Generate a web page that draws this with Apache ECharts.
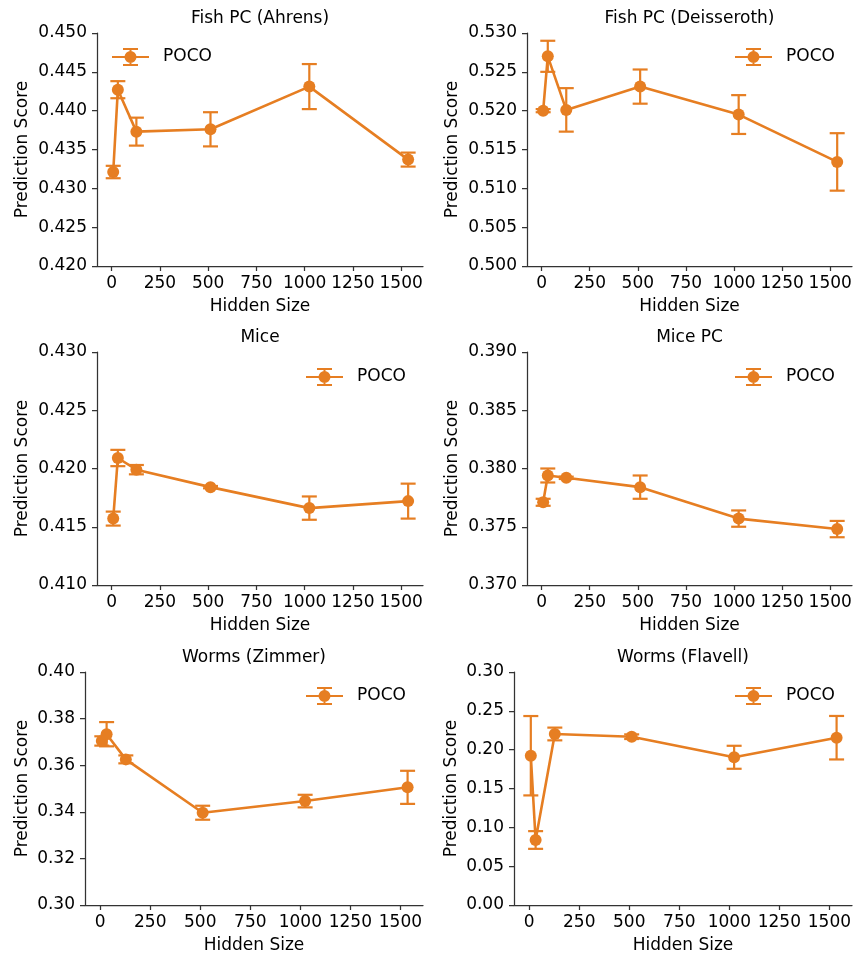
<!DOCTYPE html>
<html><head><meta charset="utf-8">
<script src="https://cdn.jsdelivr.net/npm/echarts@6/dist/echarts.min.js"></script>
<style>html,body{margin:0;padding:0;background:#fff}#c{width:855px;height:958px}</style>
</head><body><div id="c"></div>
<script>
// ---- data ----
const hiddenSizes = [8, 32, 128, 512, 1024, 1536];
const xTicks = [0, 250, 500, 750, 1000, 1250, 1500];
const panelTitles = ['Fish PC (Ahrens)', 'Fish PC (Deisseroth)', 'Mice', 'Mice PC', 'Worms (Zimmer)', 'Worms (Flavell)'];
const seriesName = 'POCO';

const ahrensMean = [0.4321, 0.4427, 0.4373, 0.4376, 0.4431, 0.4337];
const ahrensErr  = [0.0008, 0.0011, 0.0018, 0.0022, 0.0029, 0.0009];
const deisserothMean = [0.5200, 0.5270, 0.5201, 0.5231, 0.5195, 0.5134];
const deisserothErr  = [0.0002, 0.0020, 0.0028, 0.0022, 0.0025, 0.0037];
const miceMean = [0.4157, 0.4209, 0.4199, 0.4184, 0.4166, 0.4172];
const miceErr  = [0.0006, 0.0007, 0.0004, 0.0001, 0.0010, 0.0015];
const micePCMean = [0.3771, 0.3794, 0.3792, 0.3784, 0.3757, 0.3748];
const micePCErr  = [0.0003, 0.0006, 0.0001, 0.0010, 0.0007, 0.0007];
const zimmerMean = [0.3704, 0.3733, 0.3625, 0.3396, 0.3446, 0.3505];
const zimmerErr  = [0.0020, 0.0052, 0.0017, 0.0030, 0.0027, 0.0071];
const flavellMean = [0.1922, 0.0837, 0.2202, 0.2167, 0.1902, 0.2154];
const flavellErr  = [0.0511, 0.0114, 0.0082, 0.0030, 0.0148, 0.0280];

const yTicksAhrens = [0.420, 0.425, 0.430, 0.435, 0.440, 0.445, 0.450];
const yTicksDeisseroth = [0.500, 0.505, 0.510, 0.515, 0.520, 0.525, 0.530];
const yTicksMice = [0.410, 0.415, 0.420, 0.425, 0.430];
const yTicksMicePC = [0.370, 0.375, 0.380, 0.385, 0.390];
const yTicksZimmer = [0.30, 0.32, 0.34, 0.36, 0.38, 0.40];
const yTicksFlavell = [0.00, 0.05, 0.10, 0.15, 0.20, 0.25, 0.30];

// ---- styling / layout ----
const FONT = 'DejaVu Sans';
const COLOR = '#e67e22';
const AXIS = '#333';
const FS = 17;
const ICON = 'path://M0 8H37V10H0Z M17.5 0H19.5V18H17.5Z M11 0H26V2H11Z M11 16H26V18H11Z M24.5 9A6 6 0 1 1 12.5 9A6 6 0 1 1 24.5 9Z';

const panels = [
  {mean: ahrensMean, err: ahrensErr, yt: yTicksAhrens, dec: 3, grid: [97, 33, 326, 233], legend: [112, 56]},
  {mean: deisserothMean, err: deisserothErr, yt: yTicksDeisseroth, dec: 3, grid: [527, 33, 325, 233], legend: [735, 56]},
  {mean: miceMean, err: miceErr, yt: yTicksMice, dec: 3, grid: [97, 352, 326, 233], legend: [306, 376]},
  {mean: micePCMean, err: micePCErr, yt: yTicksMicePC, dec: 3, grid: [527, 352, 325, 233], legend: [735, 376]},
  {mean: zimmerMean, err: zimmerErr, yt: yTicksZimmer, dec: 2, grid: [85, 672, 338, 233], legend: [306, 695]},
  {mean: flavellMean, err: flavellErr, yt: yTicksFlavell, dec: 2, grid: [514, 672, 338, 233], legend: [735, 695]}
];

const option = {animation: false, backgroundColor: '#fff', title: [], grid: [], xAxis: [], yAxis: [], legend: [], series: []};

panels.forEach((p, i) => {
  const [l, t, w, h] = p.grid;
  option.grid.push({left: l, top: t, width: w, height: h, containLabel: false});
  option.title.push({
    text: panelTitles[i], left: l + w / 2, top: t - 23, textAlign: 'center', padding: 0,
    textStyle: {fontFamily: FONT, fontSize: FS, fontWeight: 'normal', color: '#000'}
  });
  option.xAxis.push({
    type: 'value', gridIndex: i, min: -76, max: 1613,
    name: 'Hidden Size', nameLocation: 'middle', nameGap: 32,
    nameTextStyle: {fontFamily: FONT, fontSize: FS, color: '#000'},
    axisLine: {show: true, onZero: false, lineStyle: {color: AXIS, width: 1.25}},
    axisTick: {show: true, length: 5, customValues: xTicks, lineStyle: {color: AXIS, width: 1.25}},
    axisLabel: {customValues: xTicks, margin: 9, hideOverlap: false, showMinLabel: true, showMaxLabel: true,
      fontFamily: FONT, fontSize: FS, color: '#000', formatter: v => String(Math.round(v))},
    splitLine: {show: false}
  });
  option.yAxis.push({
    type: 'value', gridIndex: i, min: p.yt[0], max: p.yt[p.yt.length - 1],
    name: 'Prediction Score', nameLocation: 'middle', nameGap: (i >= 4 ? 54 : 66), nameRotate: 90,
    nameTextStyle: {fontFamily: FONT, fontSize: FS, color: '#000'},
    axisLine: {show: true, onZero: false, lineStyle: {color: AXIS, width: 1.25}},
    axisTick: {show: true, length: 5, customValues: p.yt, lineStyle: {color: AXIS, width: 1.25}},
    axisLabel: {customValues: p.yt, margin: 10, hideOverlap: false, fontFamily: FONT, fontSize: FS, color: '#000',
      formatter: v => Number(v).toFixed(p.dec)},
    splitLine: {show: false}
  });
  option.legend.push({
    left: p.legend[0], top: p.legend[1] - 8, padding: 0, itemWidth: 37, itemHeight: 18,
    selectedMode: false,
    data: [{name: seriesName, icon: ICON, itemStyle: {color: COLOR}}],
    textStyle: {fontFamily: FONT, fontSize: FS, color: '#000', padding: [0, 0, 0, 9]}
  });
  const pts = hiddenSizes.map((x, j) => [x, p.mean[j], p.err[j]]);
  option.series.push({
    type: 'custom', name: seriesName, xAxisIndex: i, yAxisIndex: i, z: 2,
    data: pts, encode: {x: 0, y: 1},
    renderItem: (params, api) => {
      const x = api.value(0), y = api.value(1), e = api.value(2);
      const a = api.coord([x, y + e]), b = api.coord([x, y - e]);
      const hw = 7.5;
      const st = {stroke: COLOR, lineWidth: 2.2, fill: null};
      return {type: 'group', children: [
        {type: 'line', shape: {x1: a[0], y1: a[1], x2: b[0], y2: b[1]}, style: st},
        {type: 'line', shape: {x1: a[0] - hw, y1: a[1], x2: a[0] + hw, y2: a[1]}, style: st},
        {type: 'line', shape: {x1: b[0] - hw, y1: b[1], x2: b[0] + hw, y2: b[1]}, style: st}
      ]};
    }
  });
  option.series.push({
    type: 'line', name: seriesName, xAxisIndex: i, yAxisIndex: i, z: 3,
    data: pts.map(d => [d[0], d[1]]),
    symbol: 'circle', symbolSize: 12, showSymbol: true,
    itemStyle: {color: COLOR}, lineStyle: {color: COLOR, width: 2.6}
  });
});

const chart = echarts.init(document.getElementById('c'), null, {renderer: 'canvas'});
chart.setOption(option);
</script>
</body></html>
